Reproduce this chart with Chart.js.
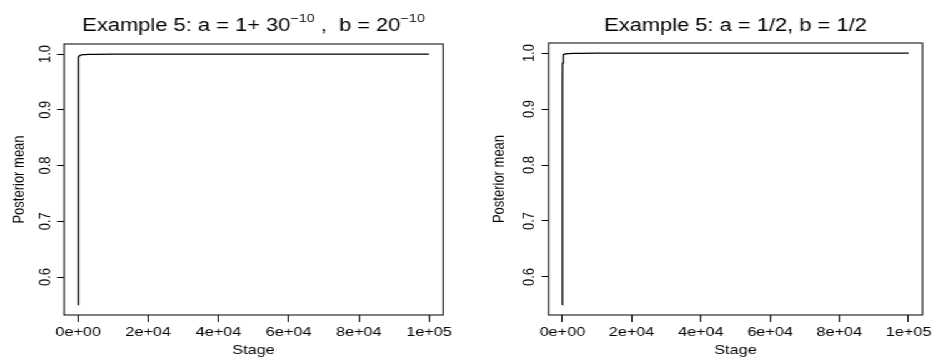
<!DOCTYPE html>
<html><head><meta charset="utf-8">
<script src="https://cdn.jsdelivr.net/npm/chart.js@4/dist/chart.umd.min.js"></script>
<style>
html,body{margin:0;padding:0;background:#fff;overflow:hidden;width:936px;height:358px;}
#wrap{position:absolute;left:0;top:0;width:748.8px;height:358px;transform:scaleX(1.25);transform-origin:0 0;}
canvas{position:absolute;top:0;}
</style></head><body>
<div id="wrap">
<canvas id="c1" width="374" height="358" style="left:0px;width:374px;height:358px"></canvas>
<canvas id="c2" width="374" height="358" style="left:374.4px;width:374px;height:358px"></canvas>
</div>
<script>
// ---- data ----
const stages = [1, 2, 5, 10, 20, 50, 100, 200, 400, 700, 1000, 1500, 2000, 3000, 5000, 10000, 20000, 50000, 100000];
const meanLeft  = [0.55, 0.70, 0.85, 0.92, 0.955, 0.981, 0.990, 0.9945, 0.9968, 0.9978, 0.9984, 0.9988, 0.9991, 0.9993, 0.9995, 0.99975, 0.99988, 0.99995, 0.99998];
const meanRight = [0.55, 0.71, 0.86, 0.925, 0.958, 0.982, 0.991, 0.9950, 0.9970, 0.9980, 0.9985, 0.9989, 0.9991, 0.9994, 0.9996, 0.99978, 0.99989, 0.99996, 0.99998];
const xTickValues = [0, 20000, 40000, 60000, 80000, 100000];
const xTickLabels = ['0e+00', '2e+04', '4e+04', '6e+04', '8e+04', '1e+05'];
const yTickValues = [0.6, 0.7, 0.8, 0.9, 1.0];
const yTickLabels = ['0.6', '0.7', '0.8', '0.9', '1.0'];
const titleLeftParts = [
  {t: 'Example 5: a = 1+ 30', sup: false},
  {t: '\u221210', sup: true},
  {t: ' ,  b = 20', sup: false},
  {t: '\u221210', sup: true}
];
const titleRightParts = [{t: 'Example 5: a = 1/2, b = 1/2', sup: false}];
const xLabel = 'Stage';
const yLabel = 'Posterior mean';

const FAMILY = '"Liberation Sans", Arial, Helvetica, sans-serif';

const rPlot = {
  id: 'rPlot',
  afterDraw(chart, args, opts) {
    const {ctx, chartArea: a} = chart;
    ctx.save();
    ctx.strokeStyle = '#000';
    ctx.lineWidth = 1;
    ctx.strokeRect(a.left, a.top, a.right - a.left, a.bottom - a.top);
    const size = 17.5, supSize = 11.5;
    const fnt = s => s + 'px ' + FAMILY;
    const widths = opts.parts.map(p => { ctx.font = fnt(p.sup ? supSize : size); return ctx.measureText(p.t).width; });
    const total = widths.reduce((s, w) => s + w, 0);
    let x = (a.left + a.right) / 2 - total / 2;
    ctx.fillStyle = '#000';
    ctx.textAlign = 'left';
    ctx.textBaseline = 'alphabetic';
    opts.parts.forEach((p, i) => {
      ctx.font = fnt(p.sup ? supSize : size);
      ctx.fillText(p.t, x, p.sup ? opts.baseline - 9 : opts.baseline);
      x += widths[i];
    });
    ctx.restore();
  }
};

function makeChart(id, values, parts, L) {
  const pts = stages.map((s, i) => ({x: s, y: values[i]}));
  return new Chart(document.getElementById(id), {
    type: 'scatter',
    data: {datasets: [{data: pts, showLine: true, borderColor: '#000', borderWidth: 1.3, pointRadius: 0, tension: 0, fill: false}]},
    options: {
      responsive: false, animation: false, devicePixelRatio: 1,
      layout: {padding: {left: 0, right: L.padRight, top: L.top, bottom: 0}},
      plugins: {legend: {display: false}, tooltip: {enabled: false}, title: {display: false}, rPlot: {parts: parts, baseline: L.titleBase}},
      scales: {
        x: {
          type: 'linear', min: -4000, max: 104000,
          afterBuildTicks: s => { s.ticks = xTickValues.map(v => ({value: v})); },
          afterFit: s => { s.height = L.xH; },
          border: {display: false},
          grid: {drawOnChartArea: false, drawTicks: true, tickLength: 7, color: '#000', lineWidth: 1},
          ticks: {autoSkip: false, minRotation: 0, maxRotation: 0, padding: 2.5, color: '#000', font: {family: FAMILY, size: 13},
                  callback: v => xTickLabels[xTickValues.indexOf(v)]},
          title: {display: true, text: xLabel, color: '#000', font: {family: FAMILY, size: 13}, padding: {top: 0, bottom: 0}}
        },
        y: {
          type: 'linear', min: 0.532, max: 1.018,
          afterBuildTicks: s => { s.ticks = yTickValues.map(v => ({value: v})); },
          afterFit: s => { s.width = L.yW; },
          border: {display: false},
          grid: {drawOnChartArea: false, drawTicks: true, tickLength: 5.6, color: '#000', lineWidth: 1},
          ticks: {autoSkip: false, minRotation: 90, maxRotation: 90, crossAlign: 'center', padding: L.yTickPad, color: '#000', font: {family: FAMILY, size: 13},
                  callback: v => yTickLabels[yTickValues.findIndex(t => Math.abs(t - v) < 1e-9)]},
          title: {display: true, text: yLabel, color: '#000', font: {family: FAMILY, size: 13}, padding: {top: L.yTitlePad, bottom: 0}}
        }
      }
    },
    plugins: [rPlot]
  });
}

makeChart('c1', meanLeft, titleLeftParts, {padRight: 19.6, top: 44, xH: 43, yW: 51.2, yTickPad: 0, yTitlePad: 8, titleBase: 31});
makeChart('c2', meanRight, titleRightParts, {padRight: 6.8, top: 43, xH: 43, yW: 64.8, yTickPad: 1, yTitlePad: 17.5, titleBase: 31});
</script>
</body></html>
